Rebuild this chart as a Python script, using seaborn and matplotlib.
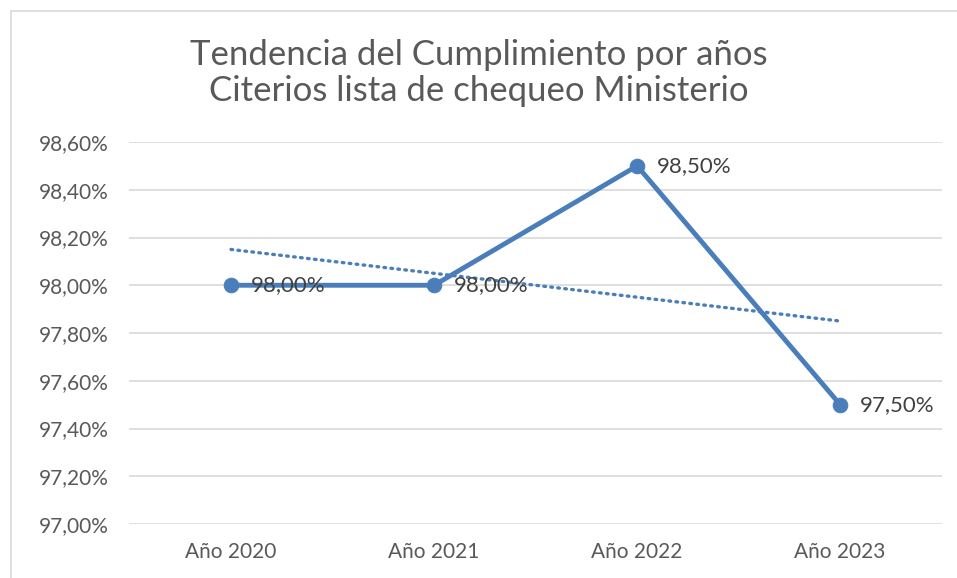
import numpy as np
import pandas as pd
import seaborn as sns
import matplotlib.pyplot as plt
from matplotlib.lines import Line2D
from matplotlib.ticker import FuncFormatter

years = ['Año 2020', 'Año 2021', 'Año 2022', 'Año 2023']
cumplimiento = [98.00, 98.00, 98.50, 97.50]
y_ticks = [97.0, 97.2, 97.4, 97.6, 97.8, 98.0, 98.2, 98.4, 98.6]

data = pd.DataFrame({'anio': years, 'valor': cumplimiento, 'pos': range(len(years))})

sns.set_style('white')
plt.rcParams['font.family'] = ['Lato', 'DejaVu Sans']

blue = '#4a7ebb'
grey = '#595959'

fig = plt.figure(figsize=(9.57, 5.78), dpi=100)
ax = fig.add_axes([0.1353, 0.0934, 0.8487, 0.6609])

# outer frame of the chart: only left and top edges are visible
frame_x = 10.5 / 957
frame_y = 1 - 10.5 / 578
fig.add_artist(Line2D([frame_x, frame_x], [0, frame_y], transform=fig.transFigure,
                      color='#d9d9d9', linewidth=1.2))
fig.add_artist(Line2D([frame_x, 1], [frame_y, frame_y], transform=fig.transFigure,
                      color='#d9d9d9', linewidth=1.2))

# linear trendline (dotted), like the spreadsheet one
coef = np.polyfit(data['pos'], data['valor'], 1)
trend = np.polyval(coef, data['pos'])
sns.lineplot(x=data['pos'], y=trend, ax=ax, color=blue, linewidth=2.4,
             linestyle=(0, (0.5, 1.6)), dash_capstyle='round')

sns.lineplot(data=data, x='pos', y='valor', ax=ax, color=blue, linewidth=3.5,
             marker='o', markersize=10.5, markeredgecolor=blue)

for x, v in zip(data['pos'], data['valor']):
    ax.annotate(f'{v:.2f}%'.replace('.', ','), (x, v), xytext=(14, 0),
                textcoords='offset points', va='center', ha='left',
                fontsize=16, color='#404040')

ax.set_xlim(-0.5, 3.5)
ax.set_ylim(97.0, 98.6)
ax.set_yticks(y_ticks)
ax.yaxis.set_major_formatter(FuncFormatter(lambda v, p: f'{v:.2f}%'.replace('.', ',')))
ax.set_xticks(list(data['pos']))
ax.set_xticklabels(years)
ax.tick_params(axis='both', length=0, labelsize=15, labelcolor=grey)
ax.tick_params(axis='y', pad=15)
ax.tick_params(axis='x', pad=13)
ax.grid(axis='y', color='#d9d9d9', linewidth=1.2)
ax.set_axisbelow(True)
for s in ax.spines.values():
    s.set_visible(False)
ax.set_xlabel('')
ax.set_ylabel('')

fig.text(0.5, 0.932, 'Tendencia del Cumplimiento por años\nCiterios lista de chequeo Ministerio',
         ha='center', va='top', fontsize=25, color=grey, linespacing=1.15)

fig.savefig('out.png', dpi=100)
